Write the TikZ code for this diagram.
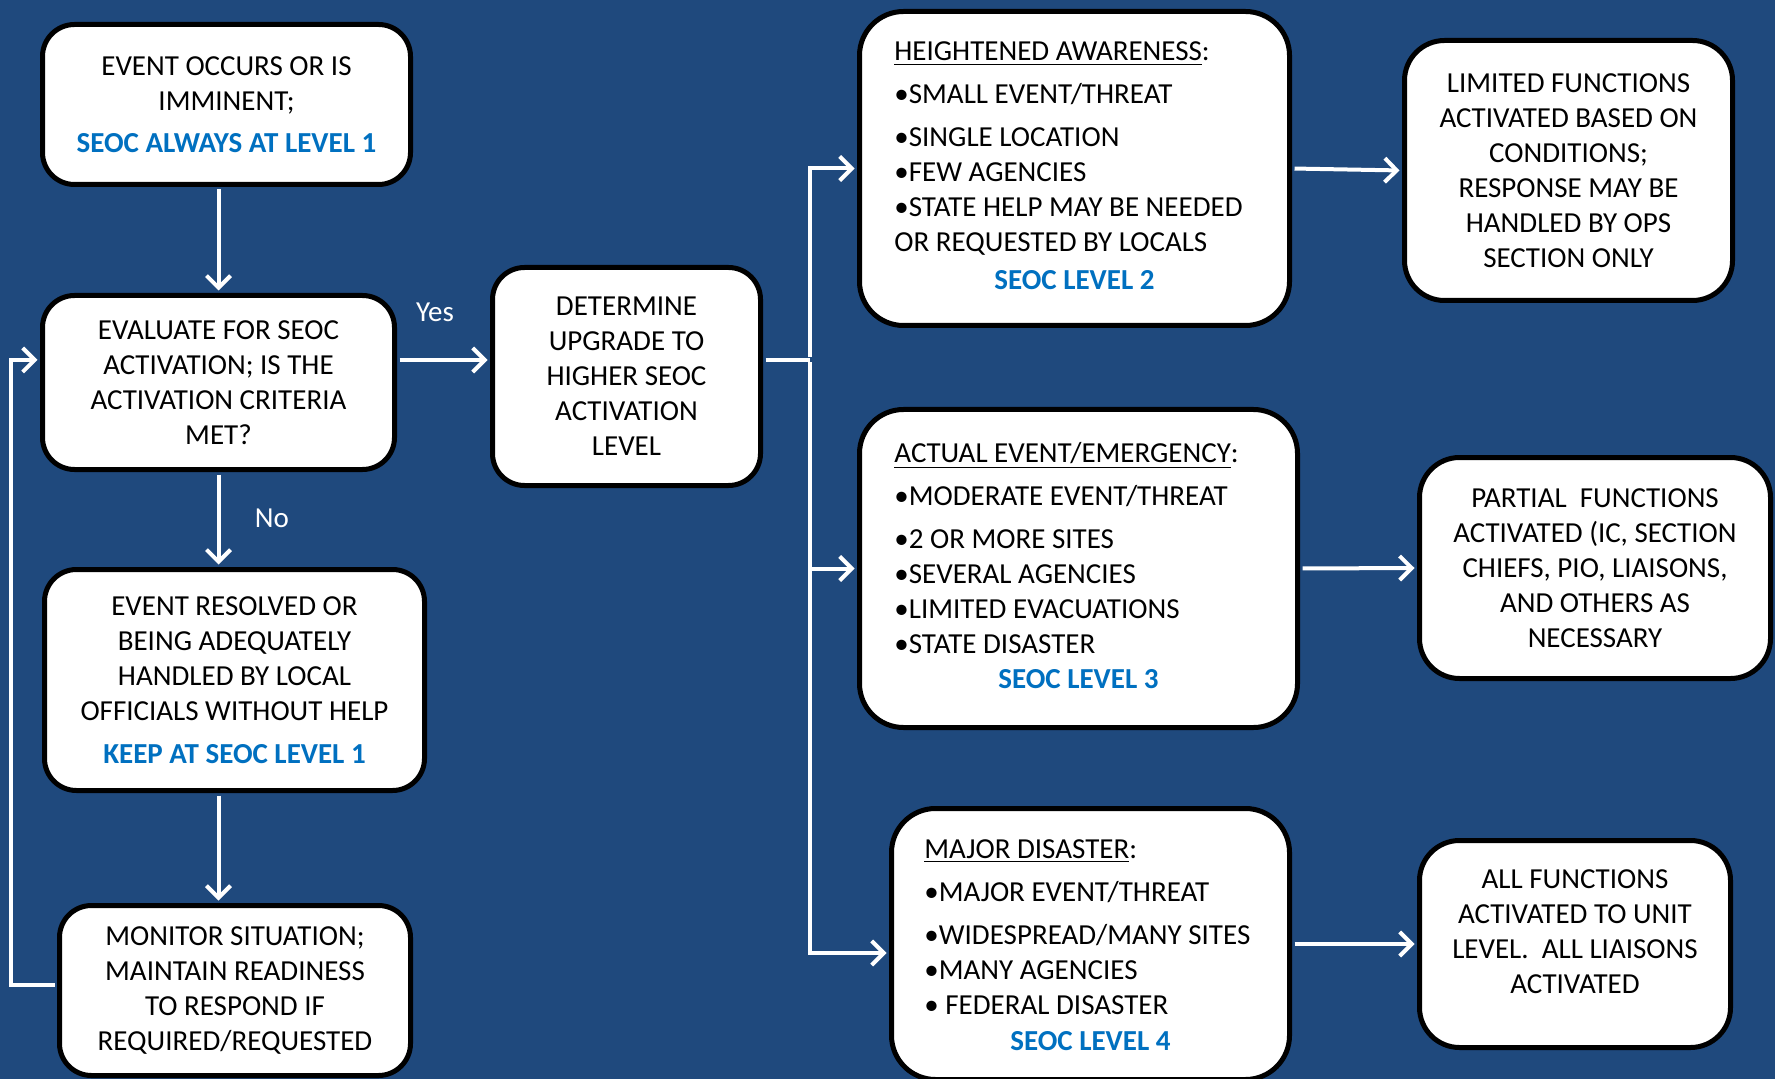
\documentclass[tikz,border=0pt]{standalone}
\usepackage{fontspec}
\setmainfont{Carlito}
\usetikzlibrary{arrows.meta}
\definecolor{bgblue}{HTML}{1F497D}
\definecolor{seocblue}{HTML}{0070C0}
\newcommand\seoc[1]{{\bfseries\color{seocblue}#1}}
\begin{document}
\begin{tikzpicture}[x=0.5pt,y=-0.5pt,
  txt/.style={font=\fontsize{14.5}{17.5}\selectfont, text=black, inner sep=0pt},
  box/.style={txt, draw=black, line width=2.5pt, fill=white, rounded corners=16pt, align=center},
  bigbox/.style={box, rounded corners=22pt},
  listtxt/.style={txt, align=left, anchor=west},
  lbl/.style={font=\fontsize{14.5}{17.5}\selectfont, text=white, inner sep=0pt},
  conn/.style={draw=white, line width=2pt, shorten <=1.25pt},
  arr/.style={conn, shorten >=1.25pt, -{Straight Barb[length=6pt,width=12pt,line width=2pt]}}]
\fill[bgblue] (0,0) rectangle (1775,1079);
\useasboundingbox (0,0) rectangle (1775,1079);

% left column
\node[box, minimum width=184pt, minimum height=80pt] (b1) at (226.5,104.5)
  {EVENT OCCURS OR IS\\IMMINENT;\\[3.5pt]\seoc{SEOC ALWAYS AT LEVEL 1}};
\node[box, minimum width=176pt, minimum height=87pt] (b2) at (218.5,382.5)
  {EVALUATE FOR SEOC\\ACTIVATION; IS THE\\ACTIVATION CRITERIA\\MET?};
\node[box, minimum width=190pt, minimum height=110.5pt] (b3) at (234.5,680)
  {EVENT RESOLVED OR\\BEING ADEQUATELY\\HANDLED BY LOCAL\\OFFICIALS WITHOUT HELP\\[4pt]\seoc{KEEP AT SEOC LEVEL 1}};
\node[box, minimum width=175.5pt, minimum height=85pt] (b4) at (235,990.5)
  {MONITOR SITUATION;\\MAINTAIN READINESS\\TO RESPOND IF\\REQUIRED/REQUESTED};

% middle
\node[box, minimum width=134pt, minimum height=109pt] (b5) at (626.5,376.5)
  {DETERMINE\\UPGRADE TO\\HIGHER SEOC\\ACTIVATION\\LEVEL};

% level boxes
\node[bigbox, minimum width=215pt, minimum height=157pt] (b6) at (1074.5,168.5) {};
\node[listtxt] (b6t) at (894,149)
  {\underline{HEIGHTENED AWARENESS}:\\[4pt]\textbullet SMALL EVENT/THREAT\\[4pt]\textbullet SINGLE LOCATION\\\textbullet FEW AGENCIES\\\textbullet STATE HELP MAY BE NEEDED\\OR REQUESTED BY LOCALS};
\node[txt] (b6l) at (1074.5,280) {\seoc{SEOC LEVEL 2}};

\node[bigbox, minimum width=219pt, minimum height=159pt] (b7) at (1078.5,568.5) {};
\node[listtxt] (b7t) at (894,548.5)
  {\underline{ACTUAL EVENT/EMERGENCY}:\\[4pt]\textbullet MODERATE EVENT/THREAT\\[4pt]\textbullet 2 OR MORE SITES\\\textbullet SEVERAL AGENCIES\\\textbullet LIMITED EVACUATIONS\\\textbullet STATE DISASTER};
\node[txt] (b7l) at (1078.5,679) {\seoc{SEOC LEVEL 3}};

\node[bigbox, minimum width=199pt, minimum height=135.5pt] (b8) at (1090.5,944) {};
\node[listtxt] (b8t) at (924,927.5)
  {\underline{MAJOR DISASTER}:\\[4pt]\textbullet MAJOR EVENT/THREAT\\[4pt]\textbullet WIDESPREAD/MANY SITES\\\textbullet MANY AGENCIES\\\textbullet\ FEDERAL DISASTER};
\node[txt] (b8l) at (1090.5,1041) {\seoc{SEOC LEVEL 4}};

% right column
\node[box, rounded corners=20pt, minimum width=164pt, minimum height=130pt] (b9) at (1568.5,170.5)
  {LIMITED FUNCTIONS\\ACTIVATED BASED ON\\CONDITIONS;\\RESPONSE MAY BE\\HANDLED BY OPS\\SECTION ONLY};
\node[box, rounded corners=20pt, minimum width=175.5pt, minimum height=110.5pt] (b10) at (1595,568)
  {PARTIAL\ \ FUNCTIONS\\ACTIVATED (IC, SECTION\\CHIEFS, PIO, LIAISONS,\\AND OTHERS AS\\NECESSARY};
\node[box, rounded corners=20pt, minimum width=155.5pt, minimum height=103.5pt] (b11) at (1575,944) {};
\node[txt, align=center] (b11t) at (1575,931.5)
  {ALL FUNCTIONS\\ACTIVATED TO UNIT\\LEVEL.\ \ ALL LIAISONS\\ACTIVATED};

% labels
\node[lbl] (yes) at (435,312) {Yes};
\node[lbl] (no) at (272,518) {No};

% connectors
\coordinate (ya) at (0,360);
\coordinate (brx) at (810,0);
\coordinate (lp) at (11,985);
\coordinate (y8) at (0,953);
\draw[arr] (b2.north |- b1.south) -- (b2.north);
\draw[arr] (b2.south) -- (b2.south |- b3.north);
\draw[arr] (b2.south |- b3.south) -- (b2.south |- b4.north);
\draw[arr] (b4.west |- lp) -- (lp) |- (b2.west |- ya);
\draw[arr] (b2.east |- ya) -- (b5.west |- ya);
\draw[conn] (b5.east |- ya) -- (brx |- ya);
\draw[arr] (brx |- ya) |- (b6.west);
\draw[arr] (brx |- ya) |- (b7.west);
\draw[arr] (brx |- ya) |- (b8.west |- y8);
\draw[arr] (b6.east) -- (b9.west);
\draw[arr] (b7.east) -- (b10.west);
\draw[arr] (b8.east |- b11.west) -- (b11.west);
\end{tikzpicture}
\end{document}
